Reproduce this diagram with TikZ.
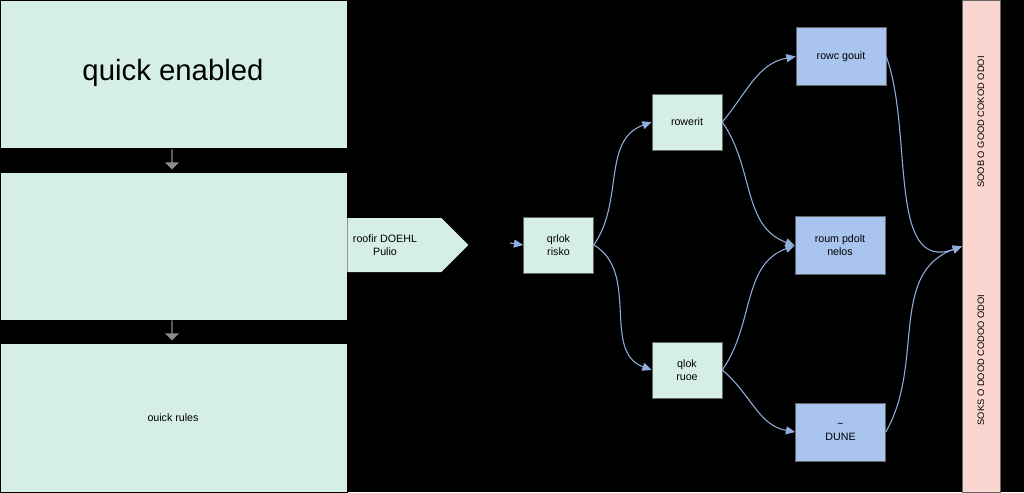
\documentclass[tikz,border=0pt]{standalone}
\usepackage{fontspec}
\setmainfont{Liberation Sans}
\usetikzlibrary{arrows.meta,shapes.arrows}
\definecolor{mint}{HTML}{D6EFE4}
\definecolor{bluebox}{HTML}{A9C4EE}
\definecolor{pinkbar}{HTML}{FBD5CF}
\definecolor{edge}{HTML}{8FAEDD}
\begin{document}
\begin{tikzpicture}[x=0.75pt,y=-0.75pt,
  big/.style={draw=black,fill=mint,minimum width=347*0.75pt,minimum height=148*0.75pt,anchor=north west,inner sep=0},
  gn/.style={draw=black!60,fill=mint,minimum width=70*0.75pt,minimum height=56*0.75pt,font=\footnotesize,align=center,inner sep=1pt},
  bn/.style={draw=black!60,fill=bluebox,minimum width=90*0.75pt,minimum height=58*0.75pt,font=\footnotesize,align=center,inner sep=1pt},
  con/.style={draw=edge,line width=0.8pt,-{Triangle[length=7pt,width=6pt]}},
  dn/.style={single arrow,draw=none,fill=black!45,shape border rotate=270,minimum height=20*0.75pt,minimum width=14*0.75pt,single arrow head extend=2pt,inner sep=0}]
\fill[black] (0,0) rectangle (1024,492);
\node[big] (b1) at (0,0) {};
\node[font=\fontsize{22}{26}\selectfont] (t1) at (173,73) {quick enabled};
\node[big] (b2) at (0,172) {};
\node[big,minimum height=149*0.75pt] (b3) at (0,343) {};
\node[font=\footnotesize] (t3) at (173,418) {ouick rules};
\node[dn] (d1) at (172,159) {};
\node[dn] (d2) at (172,330) {};
\node[single arrow,fill=mint,draw=none,minimum height=121*0.75pt,minimum width=54*0.75pt,single arrow head extend=0pt,inner sep=0,anchor=west] (ba) at (347,245) {};
\node[font=\footnotesize,align=center] (bat) at (385,245) {roofir DOEHL\\Pulio};
\node[gn] (q) at (558.5,245) {qrlok\\risko};
\coordinate (qin) at (510,243);
\node[gn] (r1) at (687,122) {rowerit};
\node[gn] (r2) at (687,370) {qlok\\ruoe};
\node[bn] (u1) at (841,56.5) {rowc gouit};
\node[bn] (u2) at (840,245.5) {roum pdolt\\nelos};
\node[bn] (u3) at (840.5,432) {\textasciitilde\\DUNE};
\node[draw=black!60,fill=pinkbar,minimum width=38*0.75pt,minimum height=492*0.75pt,anchor=north west,inner sep=0] (bar) at (962,0) {};
\node[rotate=90,font=\scriptsize] (bt1) at (981,122) {SOOB O GOOD COKOD ODOI};
\node[rotate=90,font=\scriptsize] (bt2) at (981,360) {SOKS O DOOD CODOO ODOI};
\draw[con] (qin) -- (q.west);
\draw[con] (q.east) to[out=55,in=200] (r1.west);
\draw[con] (q.east) to[out=-30,in=160] (r2.west);
\draw[con] (r1.east) to[out=50,in=190] (u1.west);
\draw[con] (r1.east) to[out=-55,in=160] (u2.west);
\draw[con] (r2.east) to[out=55,in=200] (u2.west);
\draw[con] (r2.east) to[out=-40,in=170] (u3.west);
\draw[con] (u1.east) to[out=-70,in=200] (bar.west);
\draw[con] (u3.east) to[out=60,in=200] (bar.west);
\end{tikzpicture}
\end{document}
